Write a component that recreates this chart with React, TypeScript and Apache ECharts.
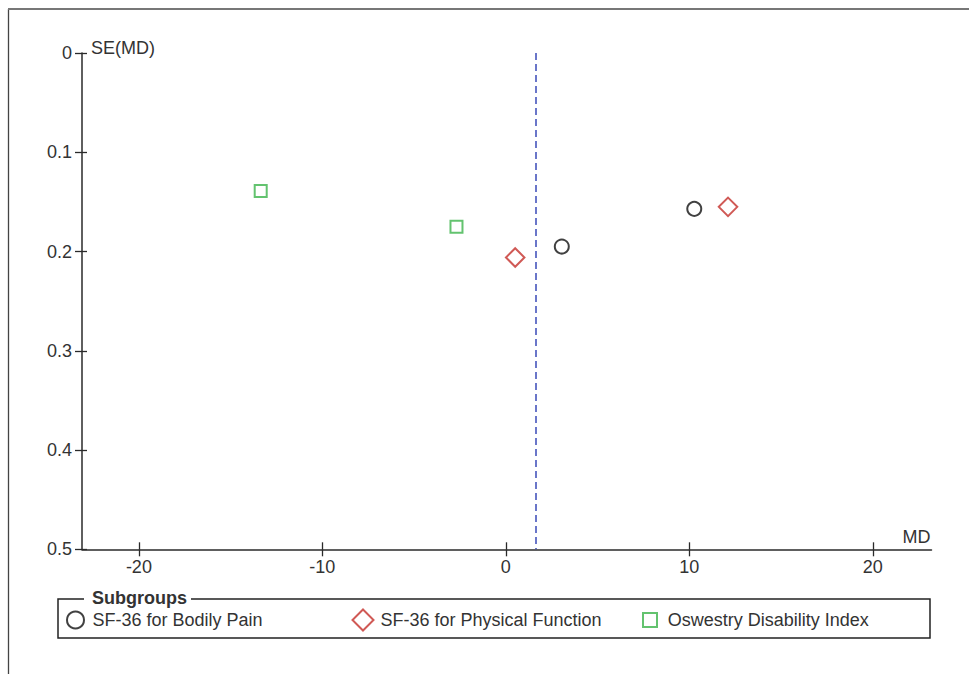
import React, { useEffect, useRef } from "react";
import * as echarts from "echarts";

const FONT = "'Liberation Sans', Arial, Helvetica, sans-serif";

// Subgroup names and their (MD, SE(MD)) study points
const subgroups = [
  "SF-36 for Bodily Pain",
  "SF-36 for Physical Function",
  "Oswestry Disability Index",
];
const bodilyPain: [number, number][] = [
  [3.05, 0.195],
  [10.27, 0.157],
];
const physicalFunction: [number, number][] = [
  [0.51, 0.206],
  [12.11, 0.155],
];
const oswestry: [number, number][] = [
  [-13.36, 0.139],
  [-2.69, 0.175],
];

// Pooled mean difference (dashed reference line)
const pooledMD = 1.65;

// Axis ranges and ticks
const mdMin = -23.1;
const mdMax = 23.2;
const mdTicks = [-20, -10, 0, 10, 20];
const seMin = 0;
const seMax = 0.5;
const seStep = 0.1;

const TEXT = "#333";
const AXIS = "#2a2a2a";
const FS = 18;

export default function App() {
  const ref = useRef<HTMLDivElement>(null);

  useEffect(() => {
    if (!ref.current) return;
    const chart = echarts.init(ref.current, undefined, { renderer: "svg" });

    const tickLine = { color: AXIS, width: 1.3 };

    const legendCommon = {
      orient: "horizontal",
      padding: 0,
      selectedMode: false,
      itemStyle: { borderWidth: 2 },
    };
    const legendText = (padLeft: number) => ({
      fontSize: FS,
      color: TEXT,
      fontFamily: FONT,
      padding: [0, 0, 0, padLeft],
    });

    const option: any = {
      animation: false,
      backgroundColor: "#fff",
      textStyle: { fontFamily: FONT },
      grid: { left: 82, top: 53, right: 37.5, bottom: 124.7, containLabel: false },
      xAxis: [
        {
          type: "value",
          min: mdMin,
          max: mdMax,
          position: "bottom",
          name: "MD",
          nameLocation: "end",
          nameGap: 0,
          nameTextStyle: {
            fontSize: FS,
            color: TEXT,
            fontFamily: FONT,
            align: "right",
            verticalAlign: "bottom",
            padding: [0, 1, 3, 0],
          },
          axisLine: { show: true, onZero: false, lineStyle: { color: AXIS, width: 1.5 } },
          axisTick: { show: true, length: 7, customValues: mdTicks, lineStyle: tickLine },
          axisLabel: {
            customValues: mdTicks,
            margin: 9,
            fontSize: FS,
            color: TEXT,
            fontFamily: FONT,
          },
          splitLine: { show: false },
        },
        {
          type: "value",
          min: mdMin,
          max: mdMax,
          position: "bottom",
          offset: 0,
          axisLine: { show: false, onZero: false },
          axisTick: { show: true, inside: true, length: 7, customValues: mdTicks, lineStyle: tickLine },
          axisLabel: { show: false },
          splitLine: { show: false },
        },
      ],
      yAxis: [
        {
          type: "value",
          min: seMin,
          max: seMax,
          interval: seStep,
          inverse: true,
          position: "left",
          axisLine: { show: true, onZero: false, lineStyle: { color: AXIS, width: 1.5 } },
          axisTick: { show: true, length: 7, lineStyle: tickLine },
          axisLabel: { margin: 10, fontSize: FS, color: TEXT, fontFamily: FONT },
          splitLine: { show: false },
        },
        {
          type: "value",
          min: seMin,
          max: seMax,
          interval: seStep,
          inverse: true,
          position: "left",
          offset: 0,
          axisLine: { show: false, onZero: false },
          axisTick: { show: true, inside: true, length: 5, lineStyle: tickLine },
          axisLabel: { show: false },
          splitLine: { show: false },
        },
      ],
      legend: [
        {
          ...legendCommon,
          data: [subgroups[0]],
          left: 66,
          top: 610.5,
          itemWidth: 17,
          itemHeight: 17,
          textStyle: legendText(3.5),
        },
        {
          ...legendCommon,
          data: [subgroups[1]],
          left: 351.5,
          top: 608.5,
          itemWidth: 21,
          itemHeight: 21,
          textStyle: legendText(2),
        },
        {
          ...legendCommon,
          data: [subgroups[2]],
          left: 642,
          top: 611,
          itemWidth: 14,
          itemHeight: 14,
          textStyle: legendText(5.7),
        },
      ],
      series: [
        {
          type: "scatter",
          name: subgroups[0],
          xAxisIndex: 0,
          yAxisIndex: 0,
          data: bodilyPain,
          symbol: "circle",
          symbolSize: 14,
          itemStyle: { color: "transparent", borderColor: "#111", borderWidth: 2 },
          emphasis: { disabled: true },
          markLine: {
            silent: true,
            symbol: "none",
            label: { show: false },
            lineStyle: { color: "#3a4ab8", type: [7, 4], width: 1.5 },
            emphasis: { disabled: true },
            data: [{ xAxis: pooledMD }],
          },
        },
        {
          type: "scatter",
          name: subgroups[1],
          xAxisIndex: 0,
          yAxisIndex: 0,
          data: physicalFunction,
          symbol: "diamond",
          symbolSize: 18.5,
          itemStyle: { color: "transparent", borderColor: "#c4302b", borderWidth: 2 },
          emphasis: { disabled: true },
        },
        {
          type: "scatter",
          name: subgroups[2],
          xAxisIndex: 0,
          yAxisIndex: 0,
          data: oswestry,
          symbol: "rect",
          symbolSize: 12,
          itemStyle: { color: "transparent", borderColor: "#3cb44b", borderWidth: 2 },
          emphasis: { disabled: true },
        },
      ],
      graphic: {
        elements: [
          // page frame
          {
            type: "line",
            shape: { x1: 8.5, y1: 9, x2: 8.5, y2: 674 },
            style: { stroke: "#444", lineWidth: 1.3 },
          },
          {
            type: "line",
            shape: { x1: 8, y1: 9, x2: 969, y2: 9 },
            style: { stroke: "#777", lineWidth: 2 },
          },
          // y-axis title
          {
            type: "text",
            x: 91,
            y: 47.5,
            style: {
              text: "SE(MD)",
              font: `${FS}px ${FONT}`,
              fill: TEXT,
              textVerticalAlign: "middle",
            },
          },
          // legend frame
          {
            type: "rect",
            z: 1,
            shape: { x: 58, y: 599, width: 872, height: 39 },
            style: { fill: "none", stroke: "#222", lineWidth: 1.5 },
          },
          {
            type: "text",
            z: 2,
            x: 84,
            y: 597.5,
            style: {
              text: "Subgroups",
              font: `bold ${FS}px ${FONT}`,
              fill: TEXT,
              textVerticalAlign: "middle",
              backgroundColor: "#fff",
              padding: [0, 4, 0, 8],
            },
          },
        ],
      },
    };

    chart.setOption(option);
    return () => chart.dispose();
  }, []);

  return (
    <div
      ref={ref}
      style={{ position: "fixed", left: 0, top: 0, width: 969, height: 674, background: "#fff" }}
    />
  );
}
